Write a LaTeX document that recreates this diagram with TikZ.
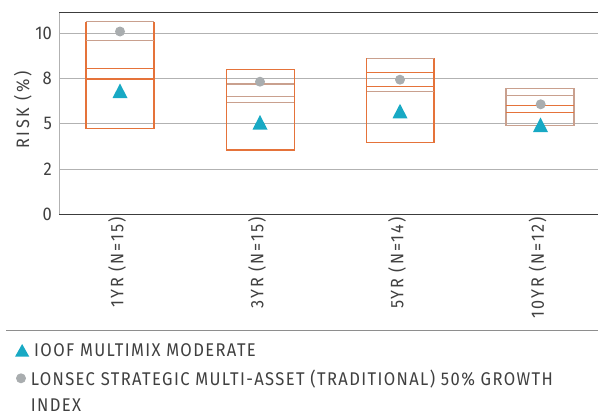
\documentclass[tikz,border=0pt]{standalone}
\usepackage{fontspec}
\setmainfont[FakeStretch=0.9]{Fira Sans}
\newfontfamily\legfont[FakeStretch=0.9,LetterSpace=7.5]{Fira Sans}
\newfontfamily\catfont[FakeStretch=0.9,LetterSpace=11]{Fira Sans}
\newfontfamily\axfont[FakeStretch=0.9,LetterSpace=15]{Fira Sans}
\definecolor{gridgray}{HTML}{B2B2B2}
\definecolor{axisdark}{HTML}{3C3C3C}
\definecolor{rangeorange}{HTML}{E5733A}
\definecolor{rangetan}{HTML}{C9A08E}
\definecolor{dotgray}{HTML}{A9ADAF}
\definecolor{fundteal}{HTML}{18A9C4}
\definecolor{txt}{HTML}{404040}
\tikzset{
  gridline/.style={gridgray, line width=1pt},
  orangeline/.style={rangeorange, line width=1.2pt},
  tanline/.style={rangetan, line width=1.4pt},
  ticklab/.style={font=\fontsize{18.4}{18.4}\selectfont, text=txt, anchor=east, inner sep=0pt},
  catlab/.style={font=\catfont\fontsize{18}{18}\selectfont, text=txt, rotate=90, anchor=base east, inner sep=0pt},
  legtext/.style={font=\legfont\fontsize{18.4}{18.4}\selectfont, text=txt, anchor=base west, inner sep=0pt},
  bench/.style={fill=dotgray, draw=none},
  fund/.style={fill=fundteal, draw=none}
}
\newcommand{\fundmark}[2]{\fill[fund] (#1-7.5,#2+7) -- (#1+7.5,#2+7) -- (#1,#2-7.5) -- cycle;}
\begin{document}
\begin{tikzpicture}[x=1pt, y=-1pt]
\useasboundingbox (0,0) rectangle (598,415);

% horizontal grid lines
\foreach \yy in {33,78.7,123.5,169}
  \draw[gridline] (59,\yy) -- (598,\yy);
% frame: left axis, top border, baseline
\draw[gridgray, line width=1pt] (59,12) -- (59,214);
\draw[axisdark, line width=1pt] (59,12) -- (598,12);
\draw[axisdark, line width=1pt] (59,214) -- (598,214);

% y tick labels
\node[ticklab] (t10) at (52,33) {10};
\node[ticklab] (t8)  at (52,78.7) {8};
\node[ticklab] (t5)  at (52,123.5) {5};
\node[ticklab] (t2)  at (52,169) {2};
\node[ticklab] (t0)  at (52,214) {0};
\node[font=\axfont\fontsize{18}{18}\selectfont, text=txt, rotate=90, anchor=base, inner sep=0pt] (ylab) at (29,110) {RISK (\%)};

% range boxes
% 1YR
\draw[orangeline] (86,21.7) -- (86,128.3) -- (154,128.3) -- (154,21.7);
\draw[tanline] (86,21.7) -- (154,21.7);
\draw[tanline] (86,40.7) -- (154,40.7);
\draw[orangeline] (86,68.3) -- (154,68.3);
\draw[orangeline] (86,79) -- (154,79);
% 3YR
\draw[orangeline] (226.7,69.7) rectangle (294.3,150);
\draw[tanline] (226.7,84) -- (294.3,84);
\draw[tanline] (226.7,96.7) -- (294.3,96.7);
\draw[tanline] (226.7,102.7) -- (294.3,102.7);
% 5YR
\draw[orangeline] (366.7,58.3) -- (366.7,142.3) -- (434,142.3) -- (434,58.3);
\draw[tanline] (366.7,58.3) -- (434,58.3);
\draw[orangeline] (366.7,72.3) -- (434,72.3);
\draw[orangeline] (366.7,86.7) -- (434,86.7);
\draw[tanline] (366.7,91.3) -- (434,91.3);
% 10YR
\draw[tanline] (506,88.3) rectangle (574,125.3);
\draw[tanline] (506,95.3) -- (574,95.3);
\draw[orangeline] (506,105.3) -- (574,105.3);
\draw[orangeline] (506,112.7) -- (574,112.7);

% benchmark dots
\fill[bench] (120,31.5) circle (5);
\fill[bench] (260,81.7) circle (5);
\fill[bench] (400,79.7) circle (5);
\fill[bench] (540.7,104.3) circle (5);

% fund triangles
\fundmark{120}{91}
\fundmark{260}{122.5}
\fundmark{400}{111.3}
\fundmark{540.5}{125}

% category labels
\node[catlab] (c1) at (123.3,217) {1YR (N=15)};
\node[catlab] (c3) at (263.3,217) {3YR (N=15)};
\node[catlab] (c5) at (403.3,217) {5YR (N=14)};
\node[catlab] (c10) at (543.8,217) {10YR (N=12)};

% legend
\draw[gridgray!80!black, line width=1pt] (6,330) -- (598,330);
\fill[fund] (15,356.7) -- (29.3,356.7) -- (22.15,344) -- cycle;
\node[legtext] (l1) at (34,356.7) {IOOF MULTIMIX MODERATE};
\fill[bench] (21,378.3) circle (5);
\node[legtext] (l2) at (30.7,385) {LONSEC STRATEGIC MULTI-ASSET (TRADITIONAL) 50\% GROWTH};
\node[legtext] (l3) at (30.7,411) {INDEX};
\end{tikzpicture}
\end{document}
